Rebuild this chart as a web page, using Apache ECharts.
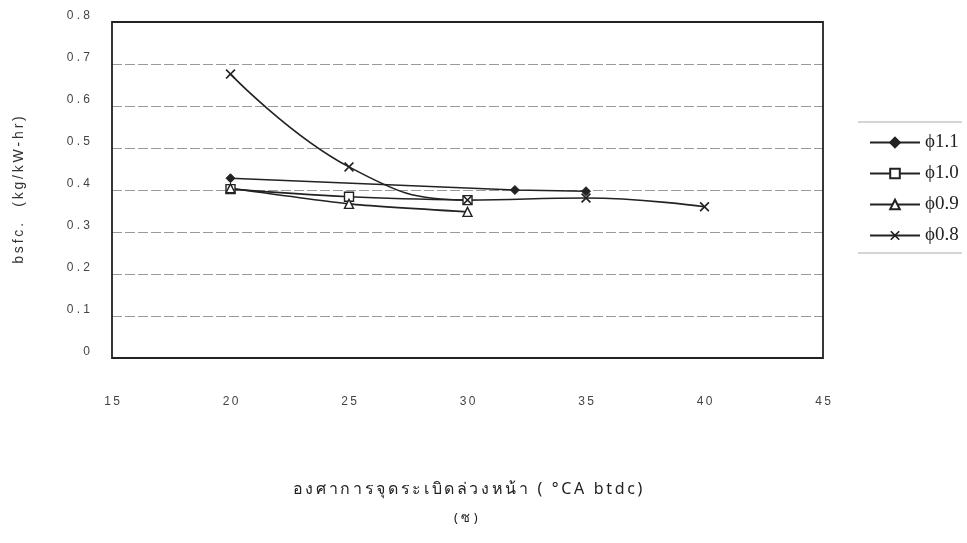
<!DOCTYPE html>
<html>
<head>
<meta charset="utf-8">
<script src="https://cdn.jsdelivr.net/npm/echarts@6/dist/echarts.min.js"></script>
<style>
html,body{margin:0;padding:0;background:#fff;}
#c{width:967px;height:543px;}
</style>
</head>
<body>
<div id="c"></div>
<script>
// ---- data ----
const seriesNames = ['\u03d51.1', '\u03d51.0', '\u03d50.9', '\u03d50.8'];
const phi11X = [20, 32, 35];
const phi11Y = [0.428, 0.400, 0.397];
const phi10X = [20, 25, 30];
const phi10Y = [0.402, 0.384, 0.376];
const phi09X = [20, 25, 30];
const phi09Y = [0.404, 0.367, 0.348];
const phi08X = [20, 25, 30, 35, 40];
const phi08Y = [0.676, 0.455, 0.376, 0.381, 0.360];
const xTitle = 'องศาการจุดระเบิดล่วงหน้า ( \u00b0CA btdc)';
const yTitle = 'bsfc.  (kg/kW-hr)';
const caption = '( ซ )';

function pairs(xs, ys) { return xs.map((x, i) => [x, ys[i]]); }
// letter-spacing helper: insert a small space before every non-combining char
function spread(s, sp) {
  const comb = /[\u0e31\u0e34-\u0e3a\u0e47-\u0e4e]/;
  let out = '';
  for (const ch of s) {
    if (out.length && !comb.test(ch)) out += sp;
    out += ch;
  }
  return out;
}

const xPath = 'path://M0,1.2L1.2,0L5,3.8L8.8,0L10,1.2L6.2,5L10,8.8L8.8,10L5,6.2L1.2,10L0,8.8L3.8,5Z';

const chart = echarts.init(document.getElementById('c'), null, {renderer: 'canvas'});
const common = {
  type: 'line',
  lineStyle: {color: '#222', width: 1.6},
  itemStyle: {color: '#fff', borderColor: '#222', borderWidth: 1.4},
  emphasis: {disabled: true},
  z: 3
};
chart.setOption({
  animation: false,
  backgroundColor: '#fff',
  textStyle: {fontFamily: 'Liberation Sans, Arial, sans-serif'},
  grid: {left: 112, right: 144, top: 22, bottom: 185, show: true, borderColor: '#222', borderWidth: 1.8, backgroundColor: 'transparent', z: 2},
  xAxis: {
    type: 'value', min: 15, max: 45, interval: 5,
    axisLine: {show: false}, axisTick: {show: false}, splitLine: {show: false},
    axisLabel: {margin: 38, color: '#444', fontSize: 12, formatter: v => spread(String(v), '\u2009')},
    name: spread(xTitle, '\u2009'), nameLocation: 'middle', nameGap: 123,
    nameTextStyle: {fontSize: 16, color: '#222', fontFamily: 'Noto Sans, Liberation Sans, sans-serif'}
  },
  yAxis: {
    type: 'value', min: 0, max: 0.8, interval: 0.1,
    axisLine: {show: false}, axisTick: {show: false},
    splitLine: {show: true, showMinLine: false, showMaxLine: false, lineStyle: {color: '#9a9a9a', width: 1, type: [10, 3]}},
    axisLabel: {margin: 22, color: '#444', fontSize: 12, verticalAlign: 'bottom',
      formatter: v => v === 0 ? '0' : v.toFixed(1).split('').join(' ')},
    name: spread(yTitle, '\u2009'), nameLocation: 'middle', nameGap: 86, nameRotate: 90,
    nameTextStyle: {fontSize: 14, color: '#333'}
  },
  legend: {
    orient: 'vertical', left: 864, top: 128, itemGap: 12, itemWidth: 50, itemHeight: 12,
    textStyle: {fontFamily: 'Liberation Serif, Times New Roman, serif', fontSize: 19, color: '#222'},
    data: seriesNames
  },
  graphic: [
    {type: 'line', shape: {x1: 858, y1: 122, x2: 962, y2: 122}, style: {stroke: '#aaa', lineWidth: 1}},
    {type: 'line', shape: {x1: 858, y1: 253, x2: 962, y2: 253}, style: {stroke: '#aaa', lineWidth: 1}},
    {type: 'text', left: 454, top: 512, style: {text: caption, fontSize: 13, fill: '#222', fontFamily: 'Noto Sans, sans-serif'}}
  ],
  series: [
    Object.assign({}, common, {name: seriesNames[0], data: pairs(phi11X, phi11Y), symbol: 'diamond', symbolSize: 9,
      itemStyle: {color: '#222', borderColor: '#222', borderWidth: 1}, smooth: false}),
    Object.assign({}, common, {name: seriesNames[1], data: pairs(phi10X, phi10Y), symbol: 'rect', symbolSize: 9, smooth: 0.4}),
    Object.assign({}, common, {name: seriesNames[2], data: pairs(phi09X, phi09Y), symbol: 'triangle', symbolSize: 9, smooth: 0.2}),
    Object.assign({}, common, {name: seriesNames[3], data: pairs(phi08X, phi08Y), symbol: xPath, symbolSize: 10,
      itemStyle: {color: '#222', borderColor: '#222', borderWidth: 0}, smooth: 0.45})
  ]
});
</script>
</body>
</html>
